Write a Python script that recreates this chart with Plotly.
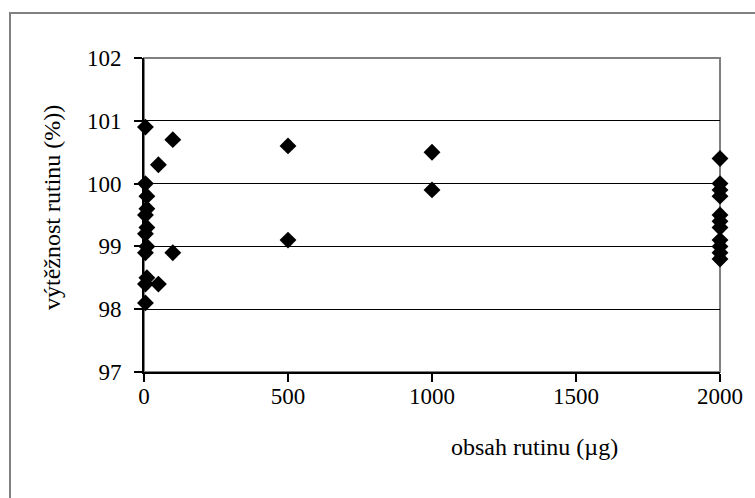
import plotly.graph_objects as go

# data (µg of rutin, recovery %)
x_low = [5, 5, 10, 10, 5, 10, 5, 10, 5, 10, 5, 5]
y_low = [100.9, 100.0, 99.8, 99.6, 99.5, 99.3, 99.2, 99.0, 98.9, 98.5, 98.4, 98.1]
x_mid = [50, 50, 100, 100, 500, 500, 1000, 1000]
y_mid = [100.3, 98.4, 100.7, 98.9, 100.6, 99.1, 100.5, 99.9]
x_high = [2000] * 11
y_high = [100.4, 100.0, 99.9, 99.8, 99.5, 99.4, 99.3, 99.1, 99.0, 98.9, 98.8]

xs = x_low + x_mid + x_high
ys = y_low + y_mid + y_high

x_ticks = [0, 500, 1000, 1500, 2000]
y_ticks = [97, 98, 99, 100, 101, 102]

W, H = 755, 498
L, R, T, B = 144, 35, 58, 126
pw, ph = W - L - R, H - T - B

fig = go.Figure()
fig.add_trace(go.Scatter(
    x=xs, y=ys, mode="markers",
    marker=dict(symbol="diamond", size=13, color="black"),
    cliponaxis=False, showlegend=False,
))

font = dict(family="Liberation Serif", size=23, color="black")
tfont = dict(family="Liberation Serif", size=24, color="black")

fig.update_layout(
    width=W, height=H,
    margin=dict(l=L, r=R, t=T, b=B),
    paper_bgcolor="white", plot_bgcolor="white",
    font=font,
    xaxis=dict(range=[0, 2000], tickvals=x_ticks, showgrid=False, zeroline=False,
               showline=True, linecolor="black", linewidth=2,
               ticks="outside", ticklen=2, tickcolor="black", tickwidth=1.5,
               minor=dict(tickvals=x_ticks, ticks="outside", ticklen=8,
                          tickcolor="black", tickwidth=1.5, showgrid=False),
               tickfont=font),
    yaxis=dict(range=[97, 102], tickvals=y_ticks, showgrid=True, gridcolor="black",
               gridwidth=1, zeroline=False,
               showline=True, linecolor="black", linewidth=2,
               ticks="outside", ticklen=8, tickcolor="black", tickwidth=1.5,
               ticklabelstandoff=8, tickfont=font),
    shapes=[
        # plot area border (gray, top/right)
        dict(type="rect", xref="paper", yref="paper", x0=0, x1=1, y0=0, y1=1,
             line=dict(color="#808080", width=2), layer="below"),
        # outer chart border
        dict(type="rect", xref="paper", yref="paper",
             x0=(10 - L) / pw, x1=(W + 10 - L) / pw,
             y0=(T + ph - (H + 10)) / ph, y1=(T + ph - 13) / ph,
             line=dict(color="#808080", width=2), layer="below"),
    ],
    annotations=[
        dict(text="obsah rutinu (µg)", xref="paper", yref="paper",
             x=(534 - L) / pw, y=(T + ph - 447) / ph, showarrow=False,
             xanchor="center", yanchor="middle", font=tfont),
        dict(text="výtěžnost rutinu (%))", xref="paper", yref="paper",
             x=(52 - L) / pw, y=(T + ph - 208) / ph, showarrow=False,
             textangle=-90, xanchor="center", yanchor="middle", font=tfont),
    ],
)

fig.write_html("out.html")
